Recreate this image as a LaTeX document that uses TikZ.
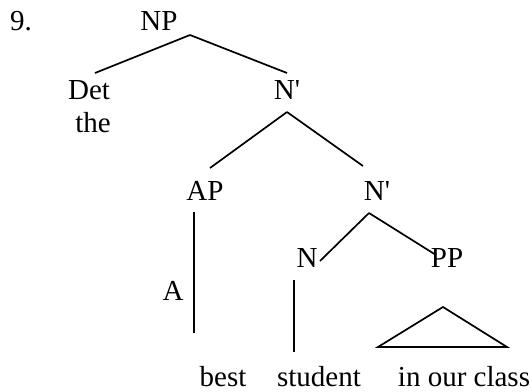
\documentclass[tikz,border=0pt]{standalone}
\usepackage{fontspec}
\setmainfont{Liberation Serif}
\begin{document}
\begin{tikzpicture}[x=1pt,y=-1pt,
  lbl/.style={inner sep=0pt,anchor=base,font=\fontsize{29}{34}\selectfont},
  branch/.style={line width=1.7pt}]
\useasboundingbox (0,0) rectangle (532,391);
% labels
\node[lbl,anchor=base west] (num) at (10,30) {9.};
\node[lbl] (np) at (159,30) {NP};
\node[lbl] (det) at (89,99) {Det};
\node[lbl] (the) at (93,132) {the};
\node[lbl] (nb1) at (287,99) {N\textquotesingle};
\node[lbl] (ap) at (205,200) {AP};
\node[lbl] (nb2) at (377,200) {N\textquotesingle};
\node[lbl] (n) at (307,267) {N};
\node[lbl] (pp) at (447,267) {PP};
\node[lbl] (a) at (173,300) {A};
\node[lbl] (best) at (223,386) {best};
\node[lbl] (student) at (319,386) {student};
\node[lbl] (class) at (464,386) {in our class};
% branch end points
\coordinate (npB) at (190,35);
\coordinate (detT) at (95,73);
\coordinate (nb1T) at (287,73);
\coordinate (nb1B) at (287,112);
\coordinate (apT) at (210,168);
\coordinate (nb2T) at (363,166);
\coordinate (nb2B) at (369,213);
\coordinate (nT) at (320,261);
\coordinate (ppT) at (436,255);
\coordinate (apB) at (194,212);
\coordinate (aB) at (194,333);
\coordinate (nB) at (294,280);
\coordinate (studentT) at (294,352);
\coordinate (triTop) at (443,307);
\coordinate (triL) at (378,347);
\coordinate (triR) at (507,347);
% branches
\draw[branch] (npB) -- (detT);
\draw[branch] (npB) -- (nb1T);
\draw[branch] (nb1B) -- (apT);
\draw[branch] (nb1B) -- (nb2T);
\draw[branch] (nb2B) -- (nT);
\draw[branch] (nb2B) -- (ppT);
\draw[branch] (apB) -- (aB);
\draw[branch] (nB) -- (studentT);
\draw[branch] (triL) -- (triTop) -- (triR) -- cycle;
\end{tikzpicture}
\end{document}
